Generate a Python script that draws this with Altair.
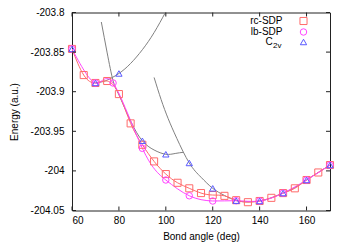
import altair as alt
import pandas as pd

# ---------------- data ----------------
rc_angle = [60, 65, 70, 75, 80, 85, 90, 95, 100, 105, 110, 115, 120, 125, 130, 135, 140, 145, 150, 155, 160, 165, 170]
rc_energy = [-203.846, -203.879, -203.889, -203.8865, -203.903, -203.940, -203.967, -203.988, -204.004, -204.015,
             -204.022, -204.028, -204.0305, -204.0315, -204.037, -204.0395, -204.038, -204.034, -204.028, -204.022,
             -204.0115, -204.002, -203.9926]

lb_angle = [60, 70, 77.5, 90, 100, 110, 120, 130, 140, 150, 160, 170]
lb_energy = [-203.846, -203.889, -203.889, -203.9715, -204.0115, -204.0314, -204.038, -204.0376, -204.038,
             -204.028, -204.0115, -203.9926]

c2v_angle = [60, 70, 80, 90, 100, 110, 120, 130, 140, 150, 160, 170]
c2v_energy = [-203.846, -203.889, -203.877, -203.962, -203.979, -203.990, -204.022, -204.0376, -204.038,
              -204.028, -204.0115, -203.9926]

# grey fitted curves (C2v branches)
curveA_angle = [70, 72.5, 75, 80, 85, 90, 95, 100]
curveA_energy = [-203.889, -203.8877, -203.8853, -203.877, -203.8643, -203.847, -203.8254, -203.799]

curveB_angle = [72.5, 75, 77.5, 80, 85, 90, 95, 100, 104, 107.5]
curveB_energy = [-203.812, -203.851, -203.886, -203.904, -203.937, -203.962, -203.9736, -203.979, -203.978, -203.9765]

curveC_angle = [95, 98, 101, 104.7, 110, 115, 120, 125, 130, 135, 140, 145, 150, 155, 160, 165, 170]
curveC_energy = [-203.882, -203.910, -203.934, -203.959, -203.990, -204.008, -204.022, -204.031, -204.0375,
                 -204.039, -204.038, -204.034, -204.028, -204.021, -204.0115, -204.002, -203.9926]

x_ticks = [60, 80, 100, 120, 140, 160]
y_ticks = [-204.05, -204.0, -203.95, -203.9, -203.85, -203.8]

legend_labels = ["rc-SDP", "lb-SDP"]

# ---------------- layout / style ----------------
W, H = 258, 198
FONT = "Liberation Sans"
AX = "#222222"
RC_COL = "#ff6a6a"
LB_COL = "#ff44ff"
C2V_COL = "#5a5aff"
GREY = "#808080"

xscale = alt.Scale(domain=[60, 170], nice=False, zero=False)
yscale = alt.Scale(domain=[-204.05, -203.8], nice=False, zero=False)

xaxis = alt.Axis(values=x_ticks, title="Bond angle (deg)", labelPadding=5, titleX=W / 2, titleY=26,
                 titleBaseline="middle", titleAlign="center", format="d")
yaxis = alt.Axis(values=y_ticks, title="Energy (a.u.)", labelPadding=8, titleX=-58, titleY=H / 2,
                 titleBaseline="middle", titleAlign="center",
                 labelExpr="replace(format(datum.value, '.2~f'), '\\u2212', '-')")

X = alt.X("angle:Q", scale=xscale, axis=xaxis)
Y = alt.Y("energy:Q", scale=yscale, axis=yaxis)


def df(a, e):
    return pd.DataFrame({"angle": a, "energy": e})


layers = []

# grey curves
for a, e in [(curveA_angle, curveA_energy), (curveB_angle, curveB_energy), (curveC_angle, curveC_energy)]:
    layers.append(alt.Chart(df(a, e)).mark_line(color=GREY, strokeWidth=1, interpolate="natural", clip=True)
                  .encode(x=X, y=Y))

# coloured spline lines
layers.append(alt.Chart(df(rc_angle, rc_energy)).mark_line(color=RC_COL, strokeWidth=1, interpolate="natural", clip=True)
              .encode(x=X, y=Y))
layers.append(alt.Chart(df(lb_angle, lb_energy)).mark_line(color=LB_COL, strokeWidth=1, interpolate="natural", clip=True)
              .encode(x=X, y=Y))

# points
layers.append(alt.Chart(df(rc_angle, rc_energy)).mark_point(shape="square", size=50, color=RC_COL, filled=False,
                                                             strokeWidth=1, opacity=1).encode(x=X, y=Y))
layers.append(alt.Chart(df(lb_angle, lb_energy)).mark_point(shape="circle", size=42, color=LB_COL, filled=False,
                                                             strokeWidth=1, opacity=1).encode(x=X, y=Y))
layers.append(alt.Chart(df(c2v_angle, c2v_energy)).mark_point(shape="triangle-up", size=40, color=C2V_COL,
                                                               filled=False, strokeWidth=1, opacity=1)
              .encode(x=X, y=Y))

# inward ticks (gnuplot style), all four sides
xt = pd.DataFrame({"angle": x_ticks})
yt = pd.DataFrame({"energy": y_ticks})
layers.append(alt.Chart(xt).mark_rule(color=AX, strokeWidth=1).encode(x=X, y=alt.value(H), y2=alt.value(H - 4)))
layers.append(alt.Chart(xt).mark_rule(color=AX, strokeWidth=1).encode(x=X, y=alt.value(0), y2=alt.value(4)))
layers.append(alt.Chart(yt).mark_rule(color=AX, strokeWidth=1).encode(y=Y, x=alt.value(0), x2=alt.value(4)))
layers.append(alt.Chart(yt).mark_rule(color=AX, strokeWidth=1).encode(y=Y, x=alt.value(W), x2=alt.value(W - 4)))

# legend (manual, gnuplot style: labels right-aligned left of symbols)
one = pd.DataFrame({"k": [0]})
lx_text, lx_sym = 210.5, 231.5
ly = [8.5, 19.5, 29.5]
for lab, yy in zip(legend_labels, ly[:2]):
    layers.append(alt.Chart(one).mark_text(text=lab, font=FONT, fontSize=10, align="right", baseline="middle",
                                           color="#000").encode(x=alt.value(lx_text), y=alt.value(yy)))
layers.append(alt.Chart(one).mark_text(text="C", font=FONT, fontSize=10, align="right", baseline="middle",
                                       color="#000").encode(x=alt.value(200.8), y=alt.value(ly[2] - 0.5)))
layers.append(alt.Chart(one).mark_text(text="2v", font=FONT, fontSize=8, align="left", baseline="middle",
                                       color="#000").encode(x=alt.value(201.0), y=alt.value(ly[2] + 3.5)))
for shape, col, sz, yy in [("square", RC_COL, 50, ly[0]), ("circle", LB_COL, 42, ly[1]),
                           ("triangle-up", C2V_COL, 40, ly[2])]:
    layers.append(alt.Chart(one).mark_point(shape=shape, size=sz, color=col, filled=False, strokeWidth=1, opacity=1)
                  .encode(x=alt.value(lx_sym), y=alt.value(yy)))

chart = (alt.layer(*layers)
         .properties(width=W, height=H,
                     autosize=alt.AutoSizeParams(type="none"),
                     padding={"left": 64, "top": 4.5, "right": 12, "bottom": 34})
         .configure_view(stroke=AX, strokeWidth=1)
         .configure_axis(domain=False, ticks=False, grid=False,
                         labelFont=FONT, labelFontSize=10, labelColor="#000",
                         titleFont=FONT, titleFontSize=10, titleFontWeight="normal", titleColor="#000"))

chart.save("out.html", embed_options={"renderer": "svg", "actions": False})
